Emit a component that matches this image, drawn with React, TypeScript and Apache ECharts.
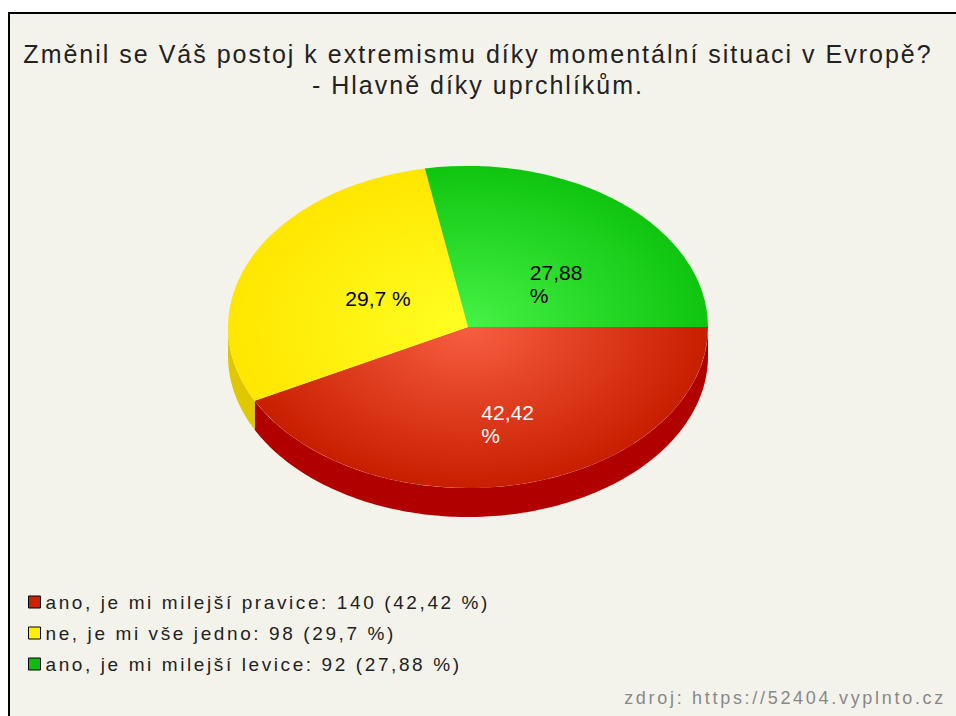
import React, { useEffect, useRef } from 'react';
import * as echarts from 'echarts';

const TITLE_LINES = [
  'Změnil se Váš postoj k extremismu díky momentální situaci v Evropě?',
  '- Hlavně díky uprchlíkům.',
];
const CATEGORIES = [
  'ano, je mi milejší pravice',
  'ne, je mi vše jedno',
  'ano, je mi milejší levice',
];
const VALUES = [140, 98, 92];
const SOURCE = 'zdroj: https://52404.vyplnto.cz';

const COLORS = ['#cc2200', '#ffee00', '#11bb11'];
const TOP_GRADIENTS = [
  ['#f85e40', '#c81e00'],
  ['#ffff22', '#ffe600'],
  ['#46f246', '#0fc50f'],
];
const SIDE_COLORS = ['#b00000', '#e0c800', '#0a9a0a'];
const LABEL_COLORS = ['#ffffff', '#000000', '#000000'];

const TOTAL = VALUES.reduce((a, b) => a + b, 0);
const fmtPct = (v: number) => String(Math.round((v / TOTAL) * 10000) / 100).replace('.', ',');

const CX = 468;
const CY = 327;
const RX = 240;
const RY = 161;
const DEPTH = 29;

const makeRenderItem = (i: number) => (params: any, api: any) => {
  const v = api.value(0);
  const before = VALUES.slice(0, i).reduce((a, b) => a + b, 0);
  const a0 = (before / TOTAL) * Math.PI * 2;
  const a1 = a0 + (v / TOTAL) * Math.PI * 2;
  const children: any[] = [];
  const s0 = Math.max(a0, 0);
  const s1 = Math.min(a1, Math.PI);
  if (s1 > s0) {
    const top: number[][] = [];
    const bottom: number[][] = [];
    const n = Math.max(2, Math.ceil((s1 - s0) / (Math.PI / 180)));
    for (let k = 0; k <= n; k++) {
      const t = s0 + ((s1 - s0) * k) / n;
      const x = CX + RX * Math.cos(t);
      const y = CY + RY * Math.sin(t);
      top.push([x, y]);
      bottom.unshift([x, y + DEPTH]);
    }
    children.push({
      type: 'polygon',
      shape: { points: top.concat(bottom) },
      style: { fill: SIDE_COLORS[i] },
      z2: 1,
    });
  }
  children.push({
    type: 'group',
    x: CX,
    y: CY,
    scaleY: RY / RX,
    children: [
      {
        type: 'sector',
        shape: { cx: 0, cy: 0, r: RX, r0: 0, startAngle: a0, endAngle: a1, clockwise: true },
        style: {
          fill: {
            type: 'radial',
            x: 0,
            y: 0,
            r: RX,
            global: true,
            colorStops: [
              { offset: 0, color: TOP_GRADIENTS[i][0] },
              { offset: 1, color: TOP_GRADIENTS[i][1] },
            ],
          },
        },
        z2: 5,
      },
    ],
  });
  const m = (a0 + a1) / 2;
  children.push({
    type: 'text',
    x: CX + 0.5 * RX * Math.cos(m) - 15,
    y: CY + 0.5 * RY * Math.sin(m) - 4,
    style: {
      text: fmtPct(v) + ' %',
      fill: LABEL_COLORS[i],
      fontSize: 21,
      fontFamily: 'Liberation Sans',
      lineHeight: 23,
      width: 70,
      overflow: 'break',
      align: 'left',
      verticalAlign: 'top',
    },
    z2: 10,
  });
  return { type: 'group', children };
};

export default function App() {
  const ref = useRef<HTMLDivElement>(null);
  useEffect(() => {
    if (!ref.current) return;
    const chart = echarts.init(ref.current, null, { renderer: 'svg' });
    chart.setOption({
      animation: false,
      title: {
        text: TITLE_LINES.join('\n'),
        left: 'center',
        top: 38,
        padding: 0,
        textStyle: {
          fontSize: 25,
          fontFamily: 'Liberation Sans',
          fontWeight: 'normal',
          color: '#222',
          lineHeight: 31,
        },
      },
      legend: {
        data: CATEGORIES,
        orient: 'vertical',
        left: 28,
        top: 592,
        padding: 0,
        itemWidth: 12,
        itemHeight: 12,
        itemGap: 11,
        itemTextGap: 5,
        icon: 'rect',
        selectedMode: false,
        itemStyle: { borderColor: '#000', borderWidth: 1 },
        textStyle: { fontSize: 19, fontFamily: 'Liberation Sans', color: '#222', lineHeight: 20 },
        formatter: (name: string) => {
          const i = CATEGORIES.indexOf(name);
          return `${name}: ${VALUES[i]} (${fmtPct(VALUES[i])} %)`;
        },
      },
      graphic: [
        {
          type: 'rect',
          z: -10,
          shape: { x: 9, y: 13, width: 1000, height: 800 },
          style: { fill: '#f4f3eb', stroke: '#000', lineWidth: 2 },
        },
        {
          type: 'text',
          x: 946,
          y: 698,
          style: {
            text: SOURCE,
            fill: '#888',
            fontSize: 18,
            fontFamily: 'Liberation Sans',
            align: 'right',
            verticalAlign: 'middle',
          },
        },
      ],
      series: CATEGORIES.map((name, i) => ({
        type: 'custom',
        name,
        coordinateSystem: 'none',
        itemStyle: { color: COLORS[i] },
        data: [[VALUES[i]]],
        renderItem: makeRenderItem(i),
      })),
    });
    return () => chart.dispose();
  }, []);
  return (
    <>
      <style>{`
        #chart-box text[style*="25px"] { letter-spacing: 2px; }
        #chart-box text[style*="19px"] { letter-spacing: 2.6px; }
        #chart-box text[style*="18px"] { letter-spacing: 2.7px; }
      `}</style>
      <div
        id="chart-box"
        ref={ref}
        style={{ position: 'fixed', left: 0, top: 0, width: 956, height: 716, background: '#fff' }}
      />
    </>
  );
}
